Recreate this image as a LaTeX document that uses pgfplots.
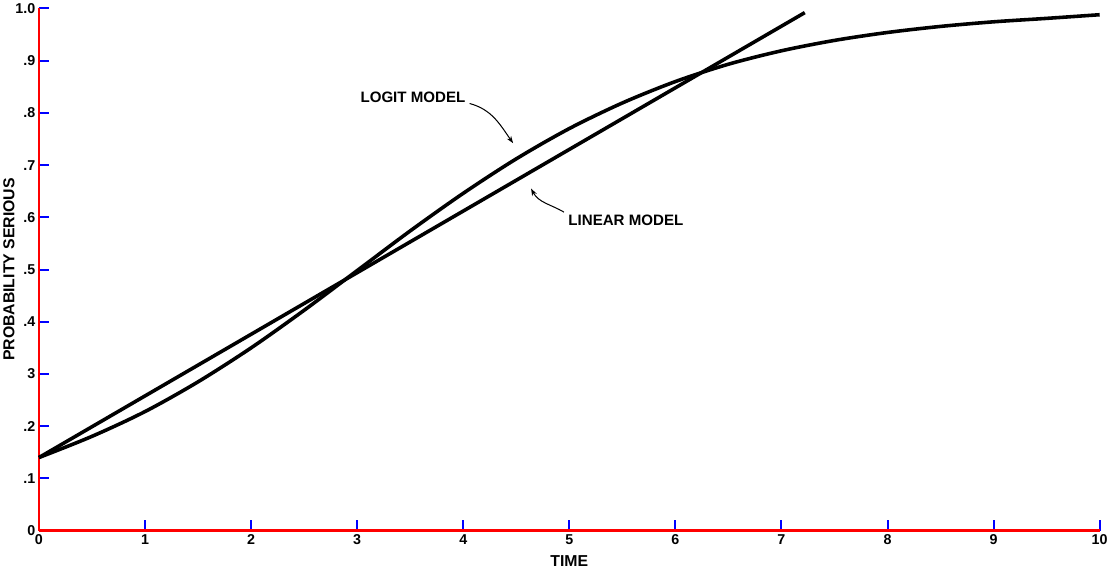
\documentclass[border=0pt]{standalone}
\usepackage{pgfplots}
\pgfplotsset{compat=1.18}
\usepackage{fontspec}
\setmainfont{Liberation Sans}
\usetikzlibrary{arrows.meta}
\begin{document}
\begin{tikzpicture}
\begin{axis}[
  scale only axis, width=1040pt, height=512pt,
  xmin=0, xmax=10, ymin=0, ymax=1,
  axis lines*=left,
  axis line style={red, line width=2.6pt},
  tick align=inside,
  major tick length=10pt,
  tick style={blue, line width=2pt},
  xtick={0,1,...,10},
  xticklabels={0,1,2,3,4,5,6,7,8,9,10},
  ytick={0,0.1,...,1.0},
  yticklabels={0,.1,.2,3,.4,.5,.6,.7,.8,.9,1.0},
  ticklabel style={font=\fontsize{14}{16}\selectfont\bfseries},
  xlabel={TIME}, ylabel={PROBABILITY SERIOUS},
  label style={font=\fontsize{15.5}{17}\selectfont\bfseries},
  xlabel style={yshift=-4pt},
  ylabel style={yshift=-6pt},
  clip=false,
]
\addplot[black, line width=3.5pt, smooth] coordinates {
(0,0.140) (0.5,0.1806) (1,0.2280) (1.5,0.2850) (2,0.3500) (2.5,0.4220)
(3,0.4980) (3.5,0.5740) (4,0.6460) (4.5,0.7120) (5,0.7700) (5.5,0.8190)
(6,0.8600) (6.5,0.8932) (7,0.9189) (7.5,0.9388) (8,0.9540) (8.5,0.9656)
(9,0.9744) (9.5,0.9810) (10,0.9880)
};
\addplot[black, line width=3.5pt] coordinates {(0,0.140) (7.22,0.992)};
\node[anchor=west, font=\fontsize{14.8}{16}\selectfont\bfseries, inner sep=0pt] at (axis cs:3.03,0.830) {LOGIT MODEL};
\node[anchor=west, font=\fontsize{14.8}{16}\selectfont\bfseries, inner sep=0pt] at (axis cs:4.99,0.594) {LINEAR MODEL};
\draw[-{Stealth[length=7pt,width=5pt]}, line width=1pt] (axis cs:4.06,0.818) to[out=-15,in=125] (axis cs:4.47,0.742);
\draw[-{Stealth[length=7pt,width=5pt]}, line width=1pt] (axis cs:4.95,0.610) to[out=150,in=-62] (axis cs:4.64,0.655);
\end{axis}
\end{tikzpicture}
\end{document}
